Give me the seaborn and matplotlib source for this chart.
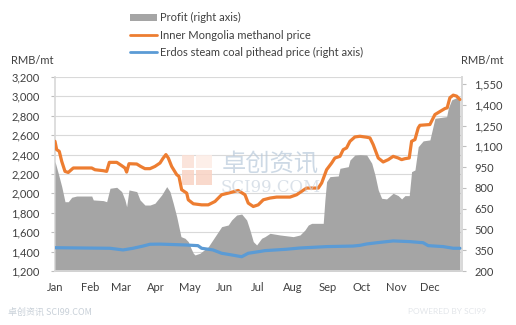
import matplotlib
matplotlib.use("Agg")
import matplotlib.pyplot as plt
import seaborn as sns
import pandas as pd
from matplotlib.patches import Patch, Rectangle
from matplotlib.lines import Line2D

# ---------------- data (day of year, value) ----------------
meth_day = [0, 1.5, 3.8, 6, 8.9, 11.8, 16.3, 32.7, 35.6, 43, 46, 48.4, 55, 59.4, 62.3, 63.8, 65.9,
            72.8, 76.3, 80.1, 84.6, 89, 93.5, 96.4, 98.8, 100.9, 103.9, 108.4, 110.4, 112.8, 117.3,
            118.7, 123.2, 130.6, 136.5, 142.5, 148.4, 154.3, 163.2, 169.2, 172.1, 176.6, 181, 185.5,
            191.5, 197.4, 209.3, 215.2, 218.2, 224.1, 234.5, 237.5, 241.9, 246.4, 249.3, 253.8, 256.7,
            259.7, 262.7, 267.1, 271.6, 277.6, 280.5, 283.4, 287.9, 292.3, 296.8, 301.2, 305.7, 308.7,
            311.7, 315.5, 317.6, 320.6, 323.5, 325, 333.9, 338.4, 347.3, 349.3, 351.7, 354.7, 357.7, 360.6]
meth_val = [2537, 2451, 2434, 2330, 2227, 2216, 2262, 2262, 2244, 2234, 2227, 2320, 2320, 2286, 2262, 2220, 2306,
            2303, 2278, 2255, 2255, 2278, 2313, 2365, 2400, 2365, 2278, 2193, 2175, 2038, 2003,
            1934, 1893, 1882, 1882, 1917, 1986, 2003, 2030, 1986, 1900, 1865, 1882, 1934,
            1952, 1962, 1962, 1986, 2010, 2055, 2055, 2107, 2244, 2313, 2365, 2382, 2451,
            2469, 2537, 2582, 2589, 2579, 2572, 2503, 2365, 2324, 2348, 2382, 2365, 2348,
            2358, 2365, 2537, 2555, 2675, 2702, 2710, 2813, 2875, 2882, 2986, 3013, 3003, 2968]

coal_day = [0, 49, 60.6, 69.5, 78.4, 84.6, 93.5, 115.8, 127.3, 130.6, 140.7, 148.4, 157.3, 166.3, 172.1,
            181, 187, 206.3, 218.2, 241.9, 265.4, 271.6, 277.6, 286.5, 301.2, 316.1, 327.9, 332.4,
            345.8, 354.7, 360.6]
coal_val = [368, 364, 352, 364, 380, 393, 394, 388, 383, 364, 352, 328, 316, 303, 328,
            339, 347, 357, 366, 376, 380, 385, 395, 404, 417, 412, 404, 383,
            376, 364, 364]

profit_day = [0, 2.9, 6, 8.9, 11.8, 14.9, 19.3, 32.7, 34.1, 43, 46, 49, 55, 59.4, 62.3, 63.8, 65.9,
              72.8, 75.7, 80.1, 84.6, 89, 95, 99.5, 102.4, 105.3, 108.4, 112.2, 115.8, 118.7, 121.1,
              123.2, 124.7, 129.1, 136.5, 142.5, 148.4, 154.3, 157.3, 161.8, 166.3, 170.7, 173.6,
              176.6, 179.6, 184, 187, 191.5, 200.4, 212.2, 218.2, 222.6, 225.6, 228.6, 238.9, 240.4,
              241.9, 244.9, 252.3, 253.8, 261.2, 262.7, 267.1, 271.6, 277.6, 282.1, 285, 287.9, 290.9,
              295.3, 301.2, 305.7, 308.7, 311.7, 315.5, 317.6, 320.6, 323.5, 327.9, 333.9, 338.4,
              348.8, 350.3, 353.3, 357.7, 360.6]
profit_val = [990, 905, 809, 700, 700, 732, 741, 741, 713, 708, 700, 797, 804, 773, 713, 664, 785,
              773, 713, 676, 676, 689, 749, 809, 773, 689, 592, 448, 436, 412, 364,
              328, 316, 328, 375, 448, 520, 532, 568, 604, 611, 568, 496,
              412, 388, 436, 448, 472, 460, 448, 460, 496, 532, 544, 544, 713,
              845, 881, 886, 941, 953, 1001, 1037, 1040, 1037, 978, 893, 785, 725,
              720, 761, 744, 720, 744, 744, 917, 929, 1097, 1139, 1146, 1302,
              1314, 1375, 1435, 1451, 1435]

month_days = [0, 31, 59, 90, 120, 151, 181, 212, 243, 273, 304, 334]
month_labels = ["Jan", "Feb", "Mar", "Apr", "May", "Jun", "Jul", "Aug", "Sep", "Oct", "Nov", "Dec"]
left_ticks = list(range(1200, 3201, 200))
right_ticks = list(range(200, 1551, 150))

series_names = ["Profit (right axis)", "Inner Mongolia methanol price",
                "Erdos steam coal pithead price (right axis)"]

# ---------------- style ----------------
sns.set_theme(style="white")
plt.rcParams["font.family"] = ["Lato", "DejaVu Sans"]

ORANGE = "#ED7D31"
BLUE = "#5B9BD5"
GRAY = "#A5A5A5"
TXT = "#404040"
GRID = "#D9D9D9"

fig = plt.figure(figsize=(5.16, 3.25), dpi=100)
ax = fig.add_axes([55 / 516, 1 - 271 / 325, (462 - 55) / 516, (271 - 77) / 325])
ax2 = ax.twinx()
ax3 = ax.twinx()

xlim = (0, 362.5)

# left axis (grid)
ax.set_xlim(*xlim)
ax.set_ylim(1200, 3200)
ax.set_yticks(left_ticks)
ax.set_yticklabels([f"{v:,}" for v in left_ticks])
ax.set_xticks(month_days)
ax.set_xticklabels(month_labels)
ax.yaxis.grid(True, color=GRID, linewidth=0.8)
ax.set_axisbelow(True)

# right axis: profit area + coal line
df_p = pd.DataFrame({"day": profit_day, "val": profit_val})
ax2.fill_between(df_p["day"], 0, df_p["val"], color=GRAY, linewidth=0, zorder=1)
df_c = pd.DataFrame({"day": coal_day, "val": coal_val})
sns.lineplot(data=df_c, x="day", y="val", ax=ax2, color=BLUE, linewidth=2.3, zorder=3)
ax2.set_xlim(*xlim)
ax2.set_ylim(200, 1600)
ax2.set_yticks(right_ticks)
ax2.set_yticklabels([f"{v:,}" for v in right_ticks])
ax2.set_ylabel("")
ax2.set_xlabel("")

# top layer: methanol (left scale)
df_m = pd.DataFrame({"day": meth_day, "val": meth_val})
sns.lineplot(data=df_m, x="day", y="val", ax=ax3, color=ORANGE, linewidth=2.3)
ax3.set_xlim(*xlim)
ax3.set_ylim(1200, 3200)
ax3.set_yticks([])
ax3.set_ylabel("")
ax3.set_xlabel("")
for s in ax3.spines.values():
    s.set_visible(False)

ax.set_xlabel("")
ax.set_ylabel("")

for a in (ax, ax2):
    a.spines["top"].set_visible(False)
    a.spines["left"].set_color(GRID)
    a.spines["right"].set_color(GRID)
    a.spines["bottom"].set_color(GRID)
    a.tick_params(axis="both", colors=TXT, labelsize=8, length=3, width=0.8, pad=3,
                  color="#BFBFBF")

ax.tick_params(axis="y", pad=8)
ax2.tick_params(axis="y", pad=6)
ax.tick_params(axis="x", pad=5)
ax2.spines["left"].set_visible(False)

# axis unit labels
fig.text(32 / 516, 1 - 61 / 325, "RMB/mt", ha="center", va="center", fontsize=8, color=TXT)
fig.text(482 / 516, 1 - 61 / 325, "RMB/mt", ha="center", va="center", fontsize=8, color=TXT)

# legend
handles = [Patch(facecolor=GRAY, edgecolor="none"),
           Line2D([0], [0], color=ORANGE, linewidth=2.0),
           Line2D([0], [0], color=BLUE, linewidth=2.0)]
fig.legend(handles, series_names, loc="upper left", bbox_to_anchor=(126 / 516, 1 - 8 / 325),
           frameon=False, fontsize=8, labelcolor=TXT, handlelength=2.4, handleheight=0.6,
           labelspacing=0.55, handletextpad=0.3, borderaxespad=0)

# watermarks
for (x0, y0, w, h, c) in [(182, 155, 12, 13, "#FBE0D5"), (182, 170, 12, 15, "#F9D3C4"),
                          (196, 170, 16, 15, "#F9D3C4"), (196, 155, 16, 13, "#FDEDE6")]:
    fig.patches.append(Rectangle((x0 / 516, 1 - (y0 + h) / 325), w / 516, h / 325,
                                 transform=fig.transFigure, facecolor=c, edgecolor="none",
                                 alpha=0.85, zorder=10))
fig.text(270 / 516, 1 - 164 / 325, "卓创资讯", ha="center", va="center", fontsize=17.5,
         color="#B9CADB", alpha=0.7, family=["Noto Sans CJK SC", "DejaVu Sans"], zorder=10)
fig.text(271 / 516, 1 - 187 / 325, "SCI99.COM", ha="center", va="center", fontsize=12,
         color="#CBD5E0", alpha=0.7, family=["DejaVu Serif"], zorder=10)
fig.text(8 / 516, 1 - 312 / 325, "卓创资讯 SCI99.COM", ha="left", va="center", fontsize=6.5,
         color="#C8D0D8", family=["Noto Sans CJK SC", "DejaVu Sans"])
fig.text(486 / 516, 1 - 312 / 325, "POWERED BY SCI99", ha="right", va="center", fontsize=6,
         color="#E3E6EA")

fig.savefig("out.png", dpi=100, facecolor="white")
